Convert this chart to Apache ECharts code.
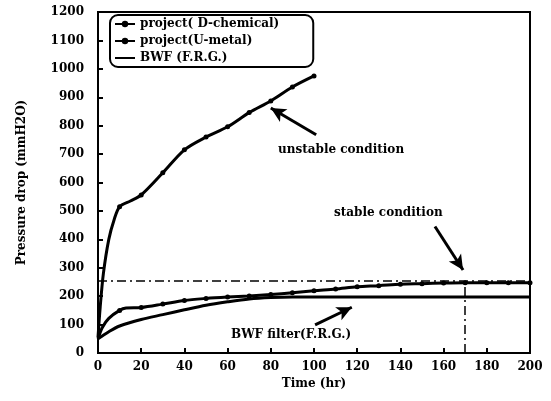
<!DOCTYPE html>
<html>
<head>
<meta charset="utf-8">
<script src="https://cdn.jsdelivr.net/npm/echarts@6/dist/echarts.min.js"></script>
<style>html,body{margin:0;padding:0;background:#fff;}#c{width:551px;height:401px;}</style>
</head>
<body>
<div id="c"></div>
<script>
const seriesNames = ['project( D-chemical)', 'project(U-metal)', 'BWF (F.R.G.)'];
const dChemical = [[0,55],[1,160],[2.5,280],[5,400],[7.5,470],[10,515],[15,535],[20,556],[30,634],[40,715],[50,760],[60,796],[70,846],[80,887],[90,936],[100,975]];
const uMetal = [[0,50],[2,90],[5,122],[10,150],[13,158],[20,160],[30,172],[40,185],[50,192],[60,197],[70,201],[80,206],[90,212],[100,219],[110,225],[120,233],[130,237],[140,242],[150,244],[160,246],[170,247],[180,247],[190,247],[200,247]];
const bwf = [[0,50],[5,75],[10,95],[20,118],[30,135],[40,152],[50,168],[60,180],[70,190],[80,195],[90,197],[200,197]];
const stableLevel = 255;
const stableTime = 170;
const stableValue = 247;
const xTickLabels = ['0','20','40','60','80','100','120','140','160','180','200'];
const yTickLabels = ['0','100','200','300','400','500','600','700','800','900','1000','1100','1200'];
const annotations = [
  {text:'unstable condition', from:[101,768], to:[80,862]},
  {text:'stable condition', from:[156,445], to:[169,292]},
  {text:'BWF filter(F.R.G.)', from:[100.5,99], to:[117.5,161]}
];

const FONT = 'DejaVu Serif';
const chart = echarts.init(document.getElementById('c'));
const markerSize = v => (v[0] > 0 && v[0] % 10 === 0) ? 5 : 0;
const lineStyle = {color:'#000', width:3};

chart.setOption({
  animation:false,
  backgroundColor:'#fff',
  grid:{left:98, top:12, right:21, bottom:48, show:true, borderColor:'#000', borderWidth:2},
  legend:{
    left:110, top:15, orient:'vertical', itemGap:5, itemWidth:20, itemHeight:8,
    padding:[3,34,3,4], borderColor:'#000', borderWidth:2, borderRadius:8,
    textStyle:{fontFamily:FONT, fontWeight:'bold', fontSize:12, color:'#000'},
    data:[
      {name:seriesNames[0]},
      {name:seriesNames[1]},
      {name:seriesNames[2], itemStyle:{opacity:0}}
    ]
  },
  xAxis:{
    type:'value', min:0, max:200, interval:20,
    name:'Time (hr)', nameLocation:'middle', nameGap:25,
    nameTextStyle:{fontFamily:FONT, fontWeight:'bold', fontSize:12, color:'#000'},
    axisLine:{lineStyle:{color:'#000', width:2}},
    axisTick:{inside:true, length:5, lineStyle:{color:'#000', width:2}},
    splitLine:{show:false},
    axisLabel:{fontFamily:FONT, fontWeight:'bold', fontSize:12, color:'#000', margin:8,
      formatter:(v)=>xTickLabels[Math.round(v/20)]}
  },
  yAxis:{
    type:'value', min:0, max:1200, interval:100,
    name:'Pressure drop (mmH2O)', nameLocation:'middle', nameGap:70, nameRotate:90,
    nameTextStyle:{fontFamily:FONT, fontWeight:'bold', fontSize:12, color:'#000'},
    axisLine:{lineStyle:{color:'#000', width:2}},
    axisTick:{inside:true, length:5, lineStyle:{color:'#000', width:2}},
    splitLine:{show:false},
    axisLabel:{fontFamily:FONT, fontWeight:'bold', fontSize:12, color:'#000', margin:14,
      formatter:(v)=>yTickLabels[Math.round(v/100)]}
  },
  series:[
    {name:seriesNames[0], type:'line', data:dChemical, smooth:0.3, symbol:'circle', symbolSize:markerSize,
      showAllSymbol:true, lineStyle:lineStyle, itemStyle:{color:'#000'}},
    {name:seriesNames[1], type:'line', data:uMetal, smooth:0.3, symbol:'circle', symbolSize:markerSize,
      showAllSymbol:true, lineStyle:lineStyle, itemStyle:{color:'#000'}},
    {name:seriesNames[2], type:'line', data:bwf, smooth:0.3, symbol:'none',
      lineStyle:lineStyle, itemStyle:{color:'#000'},
      markLine:{
        silent:true, symbol:'none', animation:false,
        lineStyle:{color:'#000', width:1.5, type:[9,4,2,4]},
        label:{show:false},
        data:[
          [{coord:[0,stableLevel]},{coord:[200,stableLevel]}],
          [{coord:[stableTime,0]},{coord:[stableTime,stableValue]}]
        ]
      }},
    {name:'annotations', type:'line', data:[], 
      markLine:{
        silent:true, animation:false,
        symbol:['none','arrow'], symbolSize:[11,15],
        lineStyle:{color:'#000', width:3, type:'solid'},
        label:{show:false},
        data:annotations.map(a=>[{coord:a.from},{coord:a.to}])
      }}
  ],
  graphic:[
    {type:'text', left:278, top:144, style:{text:annotations[0].text, font:'bold 12px "DejaVu Serif"', fill:'#000'}},
    {type:'text', left:334, top:207, style:{text:annotations[1].text, font:'bold 12px "DejaVu Serif"', fill:'#000'}},
    {type:'text', left:231, top:329, style:{text:annotations[2].text, font:'bold 12px "DejaVu Serif"', fill:'#000'}}
  ]
});
</script>
</body>
</html>
